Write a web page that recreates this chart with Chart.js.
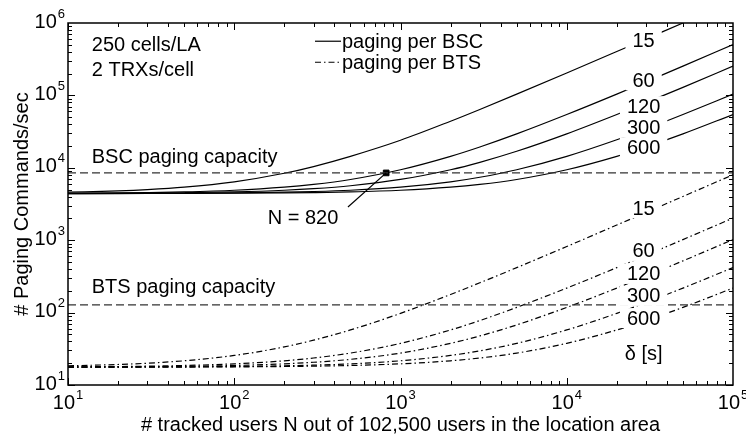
<!DOCTYPE html>
<html>
<head>
<meta charset="utf-8">
<script src="https://cdn.jsdelivr.net/npm/chart.js@4.4.1/dist/chart.umd.min.js"></script>
<style>
  html, body { margin: 0; padding: 0; background: #fff; }
  #wrap { width: 746px; height: 439px; }
</style>
</head>
<body>
<div id="wrap"><canvas id="pagingChart"></canvas></div>
<script>
// tracked users N (x axis, log scale)
const trackedUsers = [10, 20, 30, 50, 100, 200, 300, 500, 1000, 2000, 3000, 5000, 10000, 20000, 30000, 50000, 100000];
const deltas = ['15', '60', '120', '300', '600'];

// paging commands/sec per BSC, one list per delta
const bsc15 = [4600, 4800, 5000, 5400, 6400, 8400, 10400, 14400, 24000, 44000, 64000, 104000, 204000, 404000, 604000, 1000000, 2000000];
const bsc60 = [4450, 4500, 4550, 4650, 4900, 5400, 5900, 6900, 9400, 14400, 19400, 29400, 54400, 104000, 154000, 254000, 504000];
const bsc120 = [4425, 4450, 4475, 4525, 4650, 4900, 5150, 5650, 6900, 9400, 11900, 16900, 29400, 54400, 79400, 129000, 254000];
const bsc300 = [4410, 4420, 4430, 4450, 4500, 4600, 4700, 4900, 5400, 6400, 7400, 9400, 14400, 24400, 34400, 54400, 104000];
const bsc600 = [4405, 4410, 4415, 4425, 4450, 4500, 4550, 4650, 4900, 5400, 5900, 6900, 9400, 14400, 19400, 29400, 54400];

// paging commands/sec per BTS, one list per delta
const bts15 = [18.4, 19.2, 20.0, 21.6, 25.6, 33.6, 41.6, 57.6, 97.6, 178, 258, 418, 818, 1620, 2420, 4020, 8020];
const bts60 = [17.8, 18.0, 18.2, 18.6, 19.6, 21.6, 23.6, 27.6, 37.6, 57.6, 77.6, 118, 218, 418, 618, 1020, 2020];
const bts120 = [17.7, 17.8, 17.9, 18.1, 18.6, 19.6, 20.6, 22.6, 27.6, 37.6, 47.6, 67.6, 118, 218, 318, 518, 1020];
const bts300 = [17.64, 17.68, 17.72, 17.8, 18.0, 18.4, 18.8, 19.6, 21.6, 25.6, 29.6, 37.6, 57.6, 97.6, 138, 218, 418];
const bts600 = [17.62, 17.64, 17.66, 17.7, 17.8, 18.0, 18.2, 18.6, 19.6, 21.6, 23.6, 27.6, 37.6, 57.6, 77.6, 118, 218];

// capacities and the marked crossing
const bscCapacity = 8500;
const btsCapacity = 128;
const markerN = 820;
const markerValue = 8500;

// axis ticks
const xTicks = [10, 100, 1000, 10000, 100000];
const yTicks = [10, 100, 1000, 10000, 100000, 1000000];

// where the delta labels sit (data coordinates)
const labelN = 29000;
const bscLabelY = [565000, 162000, 71000, 36400, 19300];
const btsLabelY = [2780, 710, 342, 170, 84];

const FONT = '"Liberation Sans", Arial, Helvetica, sans-serif';
Chart.defaults.font.family = FONT;
Chart.defaults.color = '#000';

const bscSeries = [bsc15, bsc60, bsc120, bsc300, bsc600];
const btsSeries = [bts15, bts60, bts120, bts300, bts600];

function toPoints(values) {
    return trackedUsers.map((n, i) => ({ x: n, y: values[i] }));
}

function curve(label, values, dash) {
    return {
        label: label,
        data: toPoints(values),
        borderColor: '#000',
        borderWidth: 1.2,
        borderDash: dash,
        pointRadius: 0,
        cubicInterpolationMode: 'monotone',
        fill: false
    };
}

function hLine(value) {
    return {
        label: 'capacity',
        data: [{ x: xTicks[0], y: value }, { x: xTicks[xTicks.length - 1], y: value }],
        borderColor: '#333',
        borderWidth: 1.2,
        borderDash: [8, 4],
        pointRadius: 0
    };
}

const datasets = [hLine(bscCapacity), hLine(btsCapacity)];
deltas.forEach((d, i) => datasets.push(curve('BSC ' + d, bscSeries[i], [])));
deltas.forEach((d, i) => datasets.push(curve('BTS ' + d, btsSeries[i], [6, 3, 1.5, 3])));
datasets.push({
    label: 'N = 820',
    type: 'scatter',
    data: [{ x: markerN, y: markerValue }],
    pointStyle: 'rect',
    pointRadius: 4,
    backgroundColor: '#000',
    borderColor: '#000'
});

// draws "10" with a raised exponent
function powerLabel(ctx, value, px, py, mode) {
    const exp = String(Math.round(Math.log10(value)));
    ctx.font = '20px ' + FONT;
    const wBase = ctx.measureText('10').width;
    ctx.font = '13px ' + FONT;
    const wExp = ctx.measureText(exp).width;
    const total = wBase + 1 + wExp;
    let left, baseY;
    if (mode === 'y') {
        left = px - 3 - total;
        baseY = py - 1;
    } else {
        left = px - total / 2;
        baseY = py + 18;
    }
    ctx.textAlign = 'left';
    ctx.textBaseline = 'middle';
    ctx.font = '20px ' + FONT;
    ctx.fillText('10', left, baseY);
    ctx.font = '13px ' + FONT;
    ctx.fillText(exp, left + wBase + 1, baseY - 8);
}

const annotations = {
    id: 'annotations',
    afterDatasetsDraw(chart) {
        const { ctx, scales: { x, y } } = chart;
        ctx.save();
        ctx.textBaseline = 'middle';
        ctx.font = '20px ' + FONT;

        // delta labels cut into the curves
        const gapLabel = (text, px, py) => {
            const w = ctx.measureText(text).width;
            ctx.fillStyle = '#fff';
            ctx.fillRect(px - w / 2 - 7, py - 10, w + 14, 20);
            ctx.fillStyle = '#000';
            ctx.textAlign = 'center';
            ctx.fillText(text, px, py + 1);
        };
        const lx = x.getPixelForValue(labelN);
        deltas.forEach((d, i) => {
            gapLabel(d, lx, y.getPixelForValue(bscLabelY[i]));
            gapLabel(d, lx, y.getPixelForValue(btsLabelY[i]));
        });
        ctx.textAlign = 'center';
        ctx.fillText('\u03b4 [s]', lx, y.getPixelForValue(26));

        // left texts
        ctx.textAlign = 'left';
        const tx = x.getPixelForValue(13.9);
        ctx.fillText('250 cells/LA', tx, y.getPixelForValue(492000));
        ctx.fillText('2 TRXs/cell', tx, y.getPixelForValue(223000));
        ctx.fillText('BSC paging capacity', tx, y.getPixelForValue(14100));
        ctx.fillText('BTS paging capacity', tx, y.getPixelForValue(219));

        // legend
        const l0 = x.getPixelForValue(306);
        const rows = [[560000, [], 'paging per BSC'], [287000, [6, 3, 1.5, 3], 'paging per BTS']];
        rows.forEach(([v, dash, text]) => {
            const py = y.getPixelForValue(v);
            ctx.strokeStyle = '#000';
            ctx.lineWidth = 1.2;
            ctx.setLineDash(dash);
            ctx.beginPath();
            ctx.moveTo(l0, py);
            ctx.lineTo(l0 + 26, py);
            ctx.stroke();
            ctx.setLineDash([]);
            ctx.fillText(text, l0 + 27, py + 1);
        });

        // N = 820 callout
        ctx.beginPath();
        ctx.moveTo(x.getPixelForValue(483), y.getPixelForValue(2870));
        ctx.lineTo(x.getPixelForValue(markerN), y.getPixelForValue(markerValue));
        ctx.stroke();
        ctx.textAlign = 'center';
        ctx.fillText('N = 820', x.getPixelForValue(259), y.getPixelForValue(2020));
        ctx.restore();
    }
};

const axesBox = {
    id: 'axesBox',
    afterDraw(chart) {
        const { ctx, chartArea: a, scales: { x, y } } = chart;
        ctx.save();
        ctx.strokeStyle = '#000';
        ctx.fillStyle = '#000';
        ctx.lineWidth = 1;
        ctx.beginPath();
        for (let e = 1; e <= 4; e++) {
            for (let m = 1; m <= 9; m++) {
                const px = Math.round(x.getPixelForValue(m * Math.pow(10, e))) + 0.5;
                const len = m === 1 ? 7 : 4;
                ctx.moveTo(px, a.bottom); ctx.lineTo(px, a.bottom - len);
                ctx.moveTo(px, a.top); ctx.lineTo(px, a.top + len);
            }
        }
        for (let e = 1; e <= 5; e++) {
            for (let m = 1; m <= 9; m++) {
                const py = Math.round(y.getPixelForValue(m * Math.pow(10, e))) + 0.5;
                const len = m === 1 ? 7 : 4;
                ctx.moveTo(a.left, py); ctx.lineTo(a.left + len, py);
                ctx.moveTo(a.right, py); ctx.lineTo(a.right - len, py);
            }
        }
        ctx.stroke();
        ctx.lineWidth = 1.5;
        ctx.strokeRect(a.left, a.top, a.right - a.left, a.bottom - a.top);

        xTicks.forEach(v => powerLabel(ctx, v, x.getPixelForValue(v), a.bottom, 'x'));
        yTicks.forEach(v => powerLabel(ctx, v, a.left, y.getPixelForValue(v), 'y'));
        ctx.restore();
    }
};

new Chart(document.getElementById('pagingChart'), {
    type: 'line',
    data: { datasets: datasets },
    options: {
        responsive: true,
        maintainAspectRatio: false,
        animation: false,
        layout: { padding: { top: 23, right: 13, left: 0, bottom: 0 } },
        plugins: {
            legend: { display: false },
            tooltip: { enabled: false }
        },
        scales: {
            x: {
                type: 'logarithmic',
                min: 10,
                max: 100000,
                grid: { display: false },
                border: { display: false },
                ticks: { display: false },
                title: {
                    display: true,
                    text: '# tracked users N out of 102,500 users in the location area',
                    font: { size: 20 },
                    padding: { top: 0, bottom: 2 }
                },
                afterFit: s => { s.height = 54; }
            },
            y: {
                type: 'logarithmic',
                min: 10,
                max: 1000000,
                grid: { display: false },
                border: { display: false },
                ticks: { display: false },
                title: {
                    display: true,
                    text: '# Paging Commands/sec',
                    font: { size: 20 },
                    padding: { top: 10, bottom: 0 }
                },
                afterFit: s => { s.width = 68; }
            }
        }
    },
    plugins: [annotations, axesBox]
});
</script>
</body>
</html>
